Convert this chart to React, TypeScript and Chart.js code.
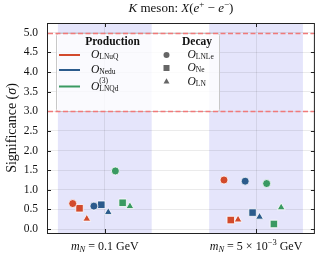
import React, { useEffect, useRef } from "react";
import { Chart, registerables } from "chart.js";
Chart.register(...registerables);

// ---- data ----
const massCategories = ["m_N = 0.1 GeV", "m_N = 5e-3 GeV"];
const productionOps = ["LNuQ", "Nedu", "LNQd"];
const decayOps = ["LNLe", "Ne", "LN"];
// significance [decay LNLe, Ne, LN] per production operator, per mass
const sigLNuQ_m01 = [0.65, 0.53, 0.26];
const sigNedu_m01 = [0.585, 0.62, 0.43];
const sigLNQd_m01 = [1.48, 0.67, 0.58];
const sigLNuQ_m5e3 = [1.25, 0.23, 0.24];
const sigNedu_m5e3 = [1.22, 0.42, 0.31];
const sigLNQd_m5e3 = [1.16, 0.13, 0.55];
const thresholds = [3.0, 5.0];
const yTicks = [0, 0.5, 1, 1.5, 2, 2.5, 3, 3.5, 4, 4.5, 5];

// ---- styling ----
const SERIF = "'Liberation Serif', 'DejaVu Serif', serif";
const prodColors = ["#d24a2c", "#2b5b8c", "#3a9a62"];
const decayStyles = ["circle", "rect", "triangle"];
const decayRadii = [4, 5.3, 4.5];
const slotOffsets = [-0.212, -0.167, -0.119, -0.072, -0.023, 0.023, 0.07, 0.118, 0.166];
const bandHalf = 0.31;

type Part = { t: string; s?: string; z?: number; dy?: number; noAdv?: boolean };

function drawRich(ctx: CanvasRenderingContext2D, parts: Part[], x: number, y: number, align: string, base = 11) {
  const ws: number[] = [];
  let total = 0;
  parts.forEach((p) => {
    ctx.font = `${p.s || "normal"} ${p.z || base}px ${SERIF}`;
    const w = ctx.measureText(p.t).width;
    ws.push(w);
    if (!p.noAdv) total += w;
  });
  let cx = align === "center" ? x - total / 2 : align === "right" ? x - total : x;
  ctx.textAlign = "left";
  ctx.textBaseline = "middle";
  parts.forEach((p, i) => {
    ctx.font = `${p.s || "normal"} ${p.z || base}px ${SERIF}`;
    ctx.fillText(p.t, cx, y + (p.dy || 0));
    if (!p.noAdv) cx += ws[i];
  });
}

export default function App() {
  const ref = useRef<HTMLCanvasElement>(null);
  useEffect(() => {
    const sets = [
      [sigLNuQ_m01, sigLNuQ_m5e3],
      [sigNedu_m01, sigNedu_m5e3],
      [sigLNQd_m01, sigLNQd_m5e3],
    ];
    const datasets: any[] = [];
    productionOps.forEach((p, pi) => {
      decayOps.forEach((d, di) => {
        const slot = pi * 3 + di;
        datasets.push({
          label: `${p}-${d}`,
          data: massCategories.map((_, mi) => ({ x: mi + slotOffsets[slot], y: sets[pi][mi][di] })),
          backgroundColor: prodColors[pi],
          borderColor: "#ffffff",
          borderWidth: 0.8,
          pointStyle: decayStyles[di],
          pointRadius: decayRadii[di],
          showLine: false,
        });
      });
    });

    const deco = {
      id: "deco",
      beforeDraw(chart: any) {
        const { ctx, chartArea: a, scales } = chart;
        const xs = scales.x;
        ctx.save();
        ctx.fillStyle = "#ffffff";
        ctx.fillRect(0, 0, chart.width, chart.height);
        ctx.fillStyle = "rgba(225,225,250,0.85)";
        massCategories.forEach((_, i) => {
          const l = xs.getPixelForValue(i - bandHalf);
          const r = xs.getPixelForValue(i + bandHalf);
          ctx.fillRect(l, a.top, r - l, a.bottom - a.top);
        });
        ctx.restore();
      },
      afterDatasetsDraw(chart: any) {
        const { ctx, chartArea: a, scales } = chart;
        const xs = scales.x, ys = scales.y;
        ctx.save();
        // frame
        ctx.strokeStyle = "#222";
        ctx.lineWidth = 1;
        ctx.strokeRect(a.left + 0.5, a.top + 0.5, a.right - a.left - 1, a.bottom - a.top);
        // inward ticks
        ctx.beginPath();
        yTicks.forEach((v) => {
          const py = Math.round(ys.getPixelForValue(v)) + 0.5;
          ctx.moveTo(a.left, py); ctx.lineTo(a.left + 4, py);
          ctx.moveTo(a.right, py); ctx.lineTo(a.right - 4, py);
        });
        massCategories.forEach((_, i) => {
          const px = Math.round(xs.getPixelForValue(i)) + 0.5;
          ctx.moveTo(px, a.top); ctx.lineTo(px, a.top + 4);
          ctx.moveTo(px, a.bottom); ctx.lineTo(px, a.bottom - 4);
        });
        ctx.stroke();

        // legend box
        const bx = a.left + 9, by = a.top + 10, bw = 163, bh = 78;
        ctx.fillStyle = "rgba(255,255,255,0.8)";
        ctx.strokeStyle = "#c8c8c8";
        ctx.beginPath();
        ctx.roundRect(bx + 0.5, by + 0.5, bw, bh, 2);
        ctx.fill();
        ctx.stroke();
        ctx.fillStyle = "#111";
        drawRich(ctx, [{ t: "Production", s: "bold" }], bx + 56.5, by + 9, "center", 11.5);
        drawRich(ctx, [{ t: "Decay", s: "bold" }], bx + 141, by + 9, "center", 11.5);
        const prodRows = [22, 37, 53.5];
        const prodLabels: Part[][] = [
          [{ t: "O", s: "italic" }, { t: productionOps[0], z: 7.5, dy: 2.5 }],
          [{ t: "O", s: "italic" }, { t: productionOps[1], z: 7.5, dy: 2.5 }],
          [{ t: "O", s: "italic" }, { t: "(3)", z: 7.5, dy: -5, noAdv: true }, { t: productionOps[2], z: 7.5, dy: 2.5 }],
        ];
        prodRows.forEach((ry, i) => {
          ctx.strokeStyle = prodColors[i];
          ctx.lineWidth = 2;
          ctx.beginPath();
          ctx.moveTo(bx + 3, by + ry);
          ctx.lineTo(bx + 24, by + ry);
          ctx.stroke();
          ctx.fillStyle = "#111";
          drawRich(ctx, prodLabels[i], bx + 35, by + ry, "left", 11.5);
        });
        const decRows = [22, 35, 48.5];
        decRows.forEach((ry, i) => {
          ctx.fillStyle = "#666";
          ctx.beginPath();
          const mx = bx + 110.5, my = by + ry;
          if (i === 0) ctx.arc(mx, my, 3, 0, Math.PI * 2);
          else if (i === 1) ctx.rect(mx - 3, my - 3, 6, 6);
          else { ctx.moveTo(mx, my - 3.3); ctx.lineTo(mx + 3, my + 2); ctx.lineTo(mx - 3, my + 2); ctx.closePath(); }
          ctx.fill();
          ctx.fillStyle = "#111";
          drawRich(ctx, [{ t: "O", s: "italic" }, { t: decayOps[i], z: 7.5, dy: 2.5 }], bx + 131.5, my, "left", 11.5);
        });

        // threshold lines
        ctx.strokeStyle = "#f07a7a";
        ctx.lineWidth = 1.3;
        ctx.setLineDash([5, 2.5]);
        thresholds.forEach((t) => {
          const py = Math.round(ys.getPixelForValue(t)) + 0.5;
          ctx.beginPath();
          ctx.moveTo(a.left + 1, py);
          ctx.lineTo(a.right - 1, py);
          ctx.stroke();
        });
        ctx.setLineDash([]);

        // title
        ctx.fillStyle = "#111";
        const cx = (a.left + a.right) / 2;
        drawRich(ctx, [
          { t: "K", s: "italic" }, { t: " meson: " }, { t: "X", s: "italic" }, { t: "(" },
          { t: "e", s: "italic" }, { t: "+", z: 9, dy: -4.5 }, { t: " − " },
          { t: "e", s: "italic" }, { t: "−", z: 9, dy: -4.5 }, { t: ")" },
        ], cx, 9, "center", 13);

        // x category labels
        const xl: Part[][] = [
          [{ t: "m", s: "italic" }, { t: "N", s: "italic", z: 8.5, dy: 2.5 }, { t: " = 0.1 GeV" }],
          [{ t: "m", s: "italic" }, { t: "N", s: "italic", z: 8.5, dy: 2.5 }, { t: " = 5 × 10" }, { t: "−3", z: 8.5, dy: -4.5 }, { t: " GeV" }],
        ];
        massCategories.forEach((_, i) => {
          drawRich(ctx, xl[i], xs.getPixelForValue(i), a.bottom + 14, "center", 12);
        });

        // y title
        ctx.translate(12, (a.top + a.bottom) / 2);
        ctx.rotate(-Math.PI / 2);
        drawRich(ctx, [{ t: "Significance (" }, { t: "σ", s: "italic" }, { t: ")" }], 0, 0, "center", 14);
        ctx.restore();
      },
    };

    const chart = new Chart(ref.current!, {
      type: "scatter",
      data: { datasets },
      options: {
        animation: false,
        responsive: false,
        devicePixelRatio: 1,
        layout: { padding: { left: 0, right: 3, top: 23, bottom: 24 } },
        plugins: { legend: { display: false }, tooltip: { enabled: false }, title: { display: false } },
        scales: {
          x: {
            type: "linear",
            min: -0.382,
            max: 1.389,
            afterBuildTicks: (s: any) => { s.ticks = massCategories.map((_, i) => ({ value: i })); },
            afterFit: (s: any) => { s.height = 0; },
            ticks: { display: false },
            grid: { color: "rgba(0,0,0,0.08)", drawTicks: false },
            border: { display: false },
          },
          y: {
            min: -0.1,
            max: 5.25,
            afterBuildTicks: (s: any) => { s.ticks = yTicks.map((v) => ({ value: v })); },
            afterFit: (s: any) => { s.width = 47; },
            ticks: {
              padding: 9,
              color: "#111",
              font: { family: SERIF, size: 11.5 },
              callback: (v: any) => Number(v).toFixed(1),
            },
            grid: { color: "rgba(0,0,0,0.08)", drawTicks: false },
            border: { display: false },
          },
        },
      } as any,
      plugins: [deco],
    });
    return () => chart.destroy();
  }, []);
  return (
    <div style={{ position: "fixed", left: 0, top: 0, width: 321, height: 257 }}>
      <canvas ref={ref} width={321} height={257} style={{ width: 321, height: 257 }} />
    </div>
  );
}
